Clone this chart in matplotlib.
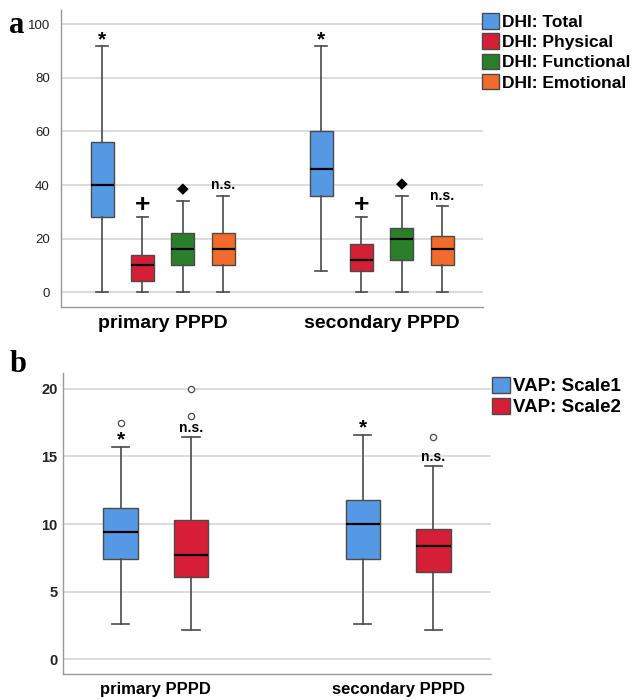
import matplotlib.pyplot as plt
from matplotlib.patches import Patch

# Panel a: DHI subscales (whisker low, Q1, median, Q3, whisker high)
groups = ["primary PPPD", "secondary PPPD"]
dhi_names = ["DHI: Total", "DHI: Physical", "DHI: Functional", "DHI: Emotional"]
dhi_colors = ["#5599E5", "#D61F37", "#2A7F2A", "#F26A2C"]
dhi_primary = [
    [0, 28, 40, 56, 92],
    [0, 4, 10, 14, 28],
    [0, 10, 16, 22, 34],
    [0, 10, 16, 22, 36],
]
dhi_secondary = [
    [8, 36, 46, 60, 92],
    [0, 8, 12, 18, 28],
    [0, 12, 20, 24, 36],
    [0, 10, 16, 21, 32],
]
dhi_marks = ["*", "+", "\u25c6", "n.s."]

# Panel b: VAP scales
vap_names = ["VAP: Scale1", "VAP: Scale2"]
vap_colors = ["#5599E5", "#D61F37"]
vap_primary = [
    [2.6, 7.4, 9.4, 11.2, 15.7],
    [2.2, 6.05, 7.7, 10.3, 16.4],
]
vap_secondary = [
    [2.6, 7.4, 10.0, 11.8, 16.6],
    [2.2, 6.45, 8.35, 9.65, 14.3],
]
vap_primary_fliers = [[17.5], [18.0, 20.0]]
vap_secondary_fliers = [[], [16.4]]
vap_marks = ["*", "n.s."]

FONT = "Liberation Sans"
plt.rcParams["font.family"] = [FONT, "DejaVu Sans"]

fig = plt.figure(figsize=(6.32, 7.0), dpi=100)
ax_a = fig.add_axes([0.0965, 0.5614, 0.6675, 0.4243])
ax_b = fig.add_axes([0.0997, 0.0371, 0.6767, 0.4299])

edge = "#4a4a4a"


def make_stats(rows, fliers=None):
    out = []
    for i, r in enumerate(rows):
        out.append({
            "whislo": r[0], "q1": r[1], "med": r[2], "q3": r[3], "whishi": r[4],
            "fliers": fliers[i] if fliers else [],
        })
    return out


def draw_panel(ax, data, fliers, colors, marks, step, width, mark_kw, offsets):
    for g, rows in enumerate(data):
        n = len(rows)
        pos = [g + (k - (n - 1) / 2) * step for k in range(n)]
        stats = make_stats(rows, fliers[g] if fliers else None)
        bp = ax.bxp(stats, positions=pos, widths=width, patch_artist=True,
                    showfliers=True, manage_ticks=False,
                    boxprops=dict(edgecolor=edge, linewidth=1.0),
                    whiskerprops=dict(color=edge, linewidth=1.2),
                    capprops=dict(color=edge, linewidth=1.2),
                    medianprops=dict(color="black", linewidth=1.6),
                    flierprops=dict(marker="o", markerfacecolor="white",
                                    markeredgecolor=edge, markersize=4.5,
                                    markeredgewidth=0.9))
        for patch, c in zip(bp["boxes"], colors):
            patch.set_facecolor(c)
        for k, r in enumerate(rows):
            m = marks[k]
            ax.annotate(m, (pos[k], r[4]), xytext=(0, offsets[m]),
                        textcoords="offset points", ha="center", va="center",
                        zorder=5, **mark_kw[m])


# ---- panel a
mk_a = {
    "*": dict(fontsize=15, fontweight="bold"),
    "+": dict(fontsize=19, fontweight="bold"),
    "\u25c6": dict(fontsize=11, family="DejaVu Sans"),
    "n.s.": dict(fontsize=10, fontweight="bold"),
}
off_a = {"*": 4, "+": 8.5, "\u25c6": 9, "n.s.": 7.5}
draw_panel(ax_a, [dhi_primary, dhi_secondary], None, dhi_colors, dhi_marks,
           0.1845, 0.105, mk_a, off_a)
ax_a.set_xlim(-0.464, 1.462)
ax_a.set_ylim(-5.6, 105.4)
ax_a.set_yticks([0, 20, 40, 60, 80, 100])
ax_a.set_xticks([0, 1])
ax_a.set_xticklabels(groups, fontsize=14, fontweight="bold")
ax_a.tick_params(axis="y", length=0, pad=8, labelsize=9.5, labelcolor="#222222")
ax_a.tick_params(axis="x", length=0, pad=5.5)

# ---- panel b
mk_b = {
    "*": dict(fontsize=15, fontweight="bold"),
    "n.s.": dict(fontsize=10, fontweight="bold"),
}
off_b = {"*": 5, "n.s.": 6.5}
draw_panel(ax_b, [vap_primary, vap_secondary],
           [vap_primary_fliers, vap_secondary_fliers], vap_colors, vap_marks,
           0.291, 0.1415, mk_b, off_b)
ax_b.set_xlim(-0.383, 1.382)
ax_b.set_ylim(-1.09, 21.16)
ax_b.set_yticks([0, 5, 10, 15, 20])
ax_b.set_xticks([0, 1])
ax_b.set_xticklabels(groups, fontsize=12, fontweight="bold")
ax_b.tick_params(axis="y", length=0, pad=4, labelsize=10.5, labelcolor="#222222")
for t in ax_b.get_yticklabels():
    t.set_fontweight("bold")
ax_b.tick_params(axis="x", length=0, pad=5.5)

for ax in (ax_a, ax_b):
    ax.set_axisbelow(True)
    ax.yaxis.grid(True, color="#d6d6d6", linewidth=1.2)
    for s in ("top", "right"):
        ax.spines[s].set_visible(False)
    for s in ("left", "bottom"):
        ax.spines[s].set_color("#9a9a9a")
        ax.spines[s].set_linewidth(1.0)

# legends
h_a = [Patch(facecolor=c, edgecolor=edge, label=n) for c, n in zip(dhi_colors, dhi_names)]
fig.legend(handles=h_a, loc="upper left", bbox_to_anchor=(0.762, 0.981),
           frameon=False, prop=dict(family=FONT, weight="bold", size=12.5),
           handlelength=1.0, handleheight=1.0, handletextpad=0.15,
           labelspacing=0.2, borderaxespad=0, borderpad=0)
h_b = [Patch(facecolor=c, edgecolor=edge, label=n) for c, n in zip(vap_colors, vap_names)]
fig.legend(handles=h_b, loc="upper left", bbox_to_anchor=(0.778, 0.462),
           frameon=False, prop=dict(family=FONT, weight="bold", size=13.5),
           handlelength=1.0, handleheight=1.0, handletextpad=0.15,
           labelspacing=0.12, borderaxespad=0, borderpad=0)

# panel letters
fig.text(0.014, 0.963, "a", fontsize=22, fontweight="bold", family="Liberation Serif",
         va="center", ha="left")
fig.text(0.015, 0.479, "b", fontsize=22, fontweight="bold", family="Liberation Serif",
         va="center", ha="left")

fig.savefig("out.png", dpi=100)
